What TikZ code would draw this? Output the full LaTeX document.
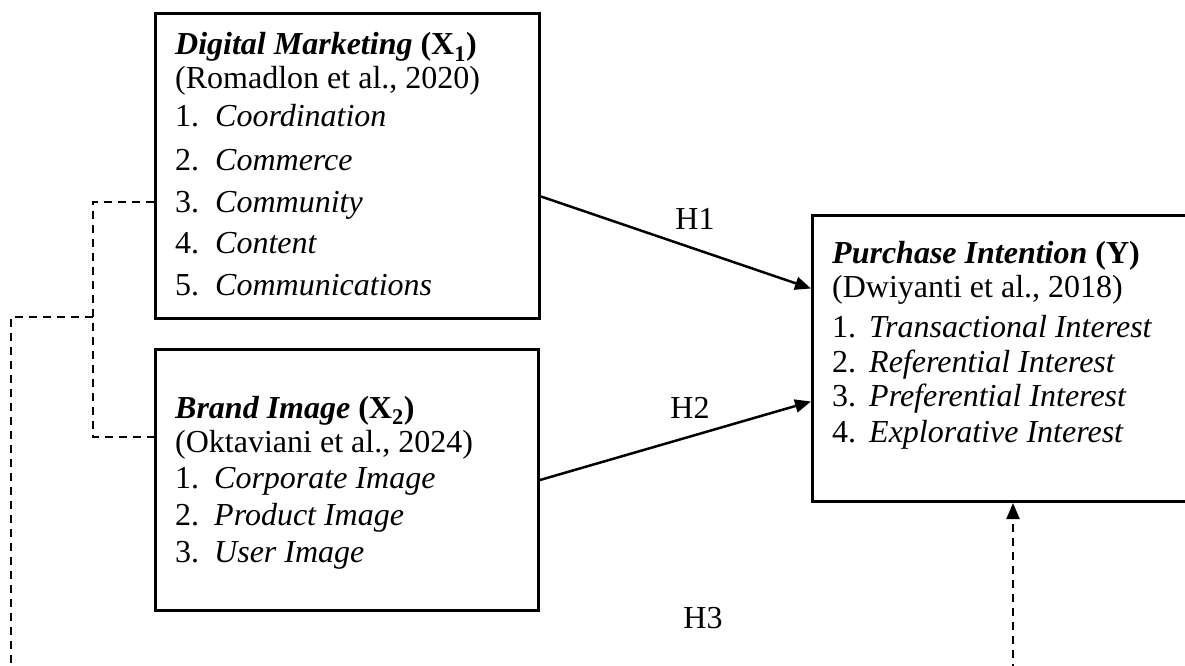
\documentclass[tikz,border=0pt]{standalone}
\usepackage{fontspec}
\setmainfont{Liberation Serif}
\usetikzlibrary{arrows.meta}
\tikzset{
  boxnode/.style={draw, line width=3pt, inner sep=0pt, anchor=north west},
  txt/.style={anchor=base west, inner sep=0pt, font=\fontsize{32}{38}\selectfont},
  conn/.style={line width=2.5pt, -{Triangle[length=16pt,width=13pt]}},
  dashconn/.style={line width=2pt, dash pattern=on 8pt off 6pt},
  lbl/.style={inner sep=0pt, font=\fontsize{32}{38}\selectfont}
}
\begin{document}
\begin{tikzpicture}[x=1pt,y=-1pt]
\clip (0,0) rectangle (1185,666);
\fill[white] (0,0) rectangle (1185,666);
% boxes
\node[boxnode, minimum width=384pt, minimum height=305pt] (x1) at (154,12) {};
\node[boxnode, minimum width=383pt, minimum height=261pt] (x2) at (154,348) {};
\node[boxnode, minimum width=384pt, minimum height=286pt] (y) at (811,214) {};
% X1 text
\node[txt] (x1h) at (175,55) {\textbf{\textit{Digital Marketing}} \textbf{(X\textsubscript{1})}};
\node[txt] (x1r) at (175,89) {(Romadlon et al., 2020)};
\foreach \n/\t/\yy in {1/Coordination/127, 2/Commerce/170, 3/Community/212, 4/Content/253, 5/Communications/295}{
  \node[txt] (x1n\n) at (175,\yy) {\n.};
  \node[txt] (x1i\n) at (215,\yy) {\textit{\t}};
}
% X2 text
\node[txt] (x2h) at (175,418) {\textbf{\textit{Brand Image}} \textbf{(X\textsubscript{2})}};
\node[txt] (x2r) at (175,452) {(Oktaviani et al., 2024)};
\foreach \n/\t/\yy in {1/Corporate Image/488, 2/Product Image/525, 3/User Image/562}{
  \node[txt] (x2n\n) at (175,\yy) {\n.};
  \node[txt] (x2i\n) at (214,\yy) {\textit{\t}};
}
% Y text
\node[txt] (yh) at (832,263) {\textbf{\textit{Purchase Intention}} \textbf{(Y)}};
\node[txt] (yr) at (832,297) {(Dwiyanti et al., 2018)};
\foreach \n/\t/\yy in {1/Transactional Interest/337, 2/Referential Interest/372, 3/Preferential Interest/406, 4/Explorative Interest/442}{
  \node[txt] (yn\n) at (832,\yy) {\n.};
  \node[txt] (yi\n) at (869,\yy) {\textit{\t}};
}
% labels
\node[lbl] (h1) at (695,219) {H1};
\node[lbl] (h2) at (690,408) {H2};
\node[lbl] (h3) at (703,618) {H3};
% connectors
\draw[conn] ([yshift=-30.5pt]x1.east) -- ([yshift=70pt]y.west);
\draw[conn] (x2.east) -- ([yshift=-43pt]y.west);
% dashed links
\coordinate (jn) at (93,317);
\coordinate (cl) at (11,317);
\coordinate (cb) at (11,672);
\coordinate (db) at (1013,672);
\draw[dashconn] ([yshift=-35.5pt]x1.west) -| (jn) |- ([yshift=43.5pt]x2.west);
\draw[dashconn] (jn) -- (cl) -- (cb);
\draw[dashconn, -{Triangle[length=16pt,width=13pt]}] (db) -- (db |- y.south);
\end{tikzpicture}
\end{document}
